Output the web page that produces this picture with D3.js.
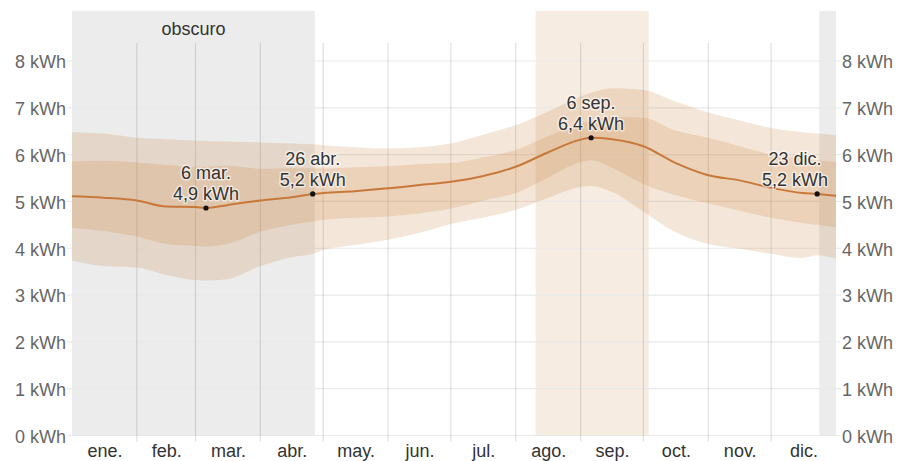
<!DOCTYPE html>
<html><head><meta charset="utf-8">
<script src="https://cdn.jsdelivr.net/npm/d3@7"></script>
<style>
html,body{margin:0;padding:0;background:#fff;}
svg{display:block;font-family:"Liberation Sans",Arial,sans-serif;}
</style></head>
<body><div id="chart"></div>
<script>
// ---- data ----
const monthLabels = ["ene.","feb.","mar.","abr.","may.","jun.","jul.","ago.","sep.","oct.","nov.","dic."];
const monthStarts = [0,31,59,90,120,151,181,212,243,273,304,334,365];
const yTicks = [0,1,2,3,4,5,6,7,8];
const days = [0,15,31,45,59,64,74,90,105,115,120,135,151,166,181,196,212,227,243,248,258,273,288,304,319,334,349,356,365];
const meanKWh = [5.11,5.08,5.02,4.89,4.88,4.86,4.92,5.02,5.09,5.16,5.18,5.22,5.28,5.35,5.42,5.54,5.74,6.04,6.32,6.36,6.33,6.18,5.83,5.56,5.45,5.29,5.18,5.16,5.12];
const p75 = [5.85,5.87,5.83,5.78,5.74,5.74,5.76,5.70,5.71,5.71,5.70,5.73,5.75,5.80,5.82,5.94,6.10,6.38,6.66,6.72,6.80,6.79,6.52,6.36,6.18,6.00,5.92,5.88,5.84];
const p90 = [6.48,6.45,6.36,6.33,6.30,6.29,6.28,6.26,6.24,6.22,6.20,6.16,6.13,6.16,6.24,6.42,6.63,6.91,7.24,7.32,7.42,7.38,7.14,6.90,6.73,6.57,6.48,6.45,6.42];
const p25 = [4.43,4.37,4.25,4.09,4.05,4.04,4.09,4.35,4.50,4.57,4.61,4.65,4.68,4.75,4.85,5.01,5.18,5.50,5.84,5.88,5.72,5.37,5.14,4.96,4.80,4.65,4.54,4.50,4.45];
const p10 = [3.74,3.62,3.59,3.43,3.32,3.31,3.34,3.62,3.81,3.88,3.96,4.07,4.18,4.33,4.52,4.65,4.82,5.07,5.31,5.33,5.20,4.78,4.35,4.09,3.99,3.88,3.79,3.85,3.77];
const annotDays = [64,115,248,356];
const annotDates = ["6 mar.","26 abr.","6 sep.","23 dic."];
const annotValues = [4.86,5.16,6.36,5.16];
const darkPeriods = [[0,116],[357,365]];
const brightPeriods = [[221.5,275.5]];
const darkLabel = "obscuro";

// ---- layout ----
const W = 899, H = 461;
const plotTop = 11;
const x = d3.scaleLinear().domain([0,365]).range([72,836]);
const y = d3.scaleLinear().domain([0,8]).range([435.5,61]);
const loc = d3.formatLocale({decimal:",",thousands:".",grouping:[3],currency:["","€"]});
const f1 = loc.format(".1f");

const svg = d3.select("#chart").append("svg").attr("width",W).attr("height",H);

// period backgrounds
svg.append("g").selectAll("rect").data(darkPeriods).join("rect")
  .attr("x",d=>x(d[0])).attr("width",d=>x(d[1])-x(d[0]))
  .attr("y",plotTop).attr("height",y(0)-plotTop).attr("fill","#ececec");
svg.append("g").selectAll("rect").data(brightPeriods).join("rect")
  .attr("x",d=>x(d[0])).attr("width",d=>x(d[1])-x(d[0]))
  .attr("y",plotTop).attr("height",y(0)-plotTop).attr("fill","#f6ece2");

// horizontal gridlines
svg.append("g").selectAll("line").data(yTicks).join("line")
  .attr("x1",x(0)-5).attr("x2",x(365)+5)
  .attr("y1",d=>y(d)).attr("y2",d=>y(d))
  .attr("stroke","#e9e9e9").attr("stroke-width",1.2);
// vertical month lines
svg.append("g").selectAll("line").data(monthStarts.slice(1,12)).join("line")
  .attr("x1",d=>x(d)).attr("x2",d=>x(d))
  .attr("y1",43).attr("y2",y(0)+6)
  .attr("stroke","rgba(0,0,0,0.12)").attr("stroke-width",1.2);

// bands
const idx = d3.range(days.length);
const bandColor = "rgba(200,130,60,0.2)";
svg.append("path").datum(idx)
  .attr("d",d3.area().x(i=>x(days[i])).y0(i=>y(p10[i])).y1(i=>y(p90[i])).curve(d3.curveMonotoneX))
  .attr("fill",bandColor);
svg.append("path").datum(idx)
  .attr("d",d3.area().x(i=>x(days[i])).y0(i=>y(p25[i])).y1(i=>y(p75[i])).curve(d3.curveMonotoneX))
  .attr("fill",bandColor);
// mean line
svg.append("path").datum(idx)
  .attr("d",d3.line().x(i=>x(days[i])).y(i=>y(meanKWh[i])).curve(d3.curveMonotoneX))
  .attr("fill","none").attr("stroke","#c8793a").attr("stroke-width",2);

// annotations
const ann = svg.append("g");
annotDays.forEach((d,i)=>{
  const px = x(d), py = y(annotValues[i]);
  ann.append("circle").attr("cx",px).attr("cy",py).attr("r",2.6).attr("fill","#111");
  const g = ann.append("g").attr("font-size",18).attr("fill","#333")
     .attr("text-anchor","middle");
  const t1 = g.append("text").attr("y",py-29).text(annotDates[i]);
  const t2 = g.append("text").attr("y",py-8).text(f1(annotValues[i])+" kWh");
  const w = Math.max(t1.node().getComputedTextLength(), t2.node().getComputedTextLength());
  let cx = Math.min(px, x(365)-8-w/2);
  cx = Math.max(cx, x(0)+8+w/2);
  t1.attr("x",cx); t2.attr("x",cx);
  g.selectAll("text").attr("stroke","rgba(255,255,255,0.6)").attr("stroke-width",3)
    .attr("paint-order","stroke").attr("stroke-linejoin","round");
});

// axes
const fmtY = v=>v+" kWh";
const left = svg.append("g").attr("transform",`translate(${x(0)-4},0)`)
  .call(d3.axisLeft(y).tickValues(yTicks).tickSize(0).tickPadding(2).tickFormat(fmtY));
const right = svg.append("g").attr("transform",`translate(${x(365)+4},0)`)
  .call(d3.axisRight(y).tickValues(yTicks).tickSize(0).tickPadding(2).tickFormat(fmtY));
[left,right].forEach(a=>{
  a.select(".domain").remove();
  a.selectAll("text").attr("font-size",18).attr("fill","#666").attr("dy","0.38em")
    .attr("font-family","Liberation Sans, Arial, sans-serif");
});
const mid = d3.range(12).map(i=>(monthStarts[i]+monthStarts[i+1])/2);
const bottom = svg.append("g").attr("transform",`translate(0,${y(0)})`)
  .call(d3.axisBottom(x).tickValues(mid).tickSize(0).tickPadding(9)
    .tickFormat((d,i)=>monthLabels[i]));
bottom.select(".domain").remove();
bottom.selectAll("text").attr("font-size",18).attr("fill","#333")
  .attr("font-family","Liberation Sans, Arial, sans-serif");

// period label
svg.append("text").attr("x",(x(darkPeriods[0][0])+x(darkPeriods[0][1]))/2).attr("y",35)
  .attr("text-anchor","middle").attr("font-size",18).attr("fill","#333").text(darkLabel);
</script></body></html>
